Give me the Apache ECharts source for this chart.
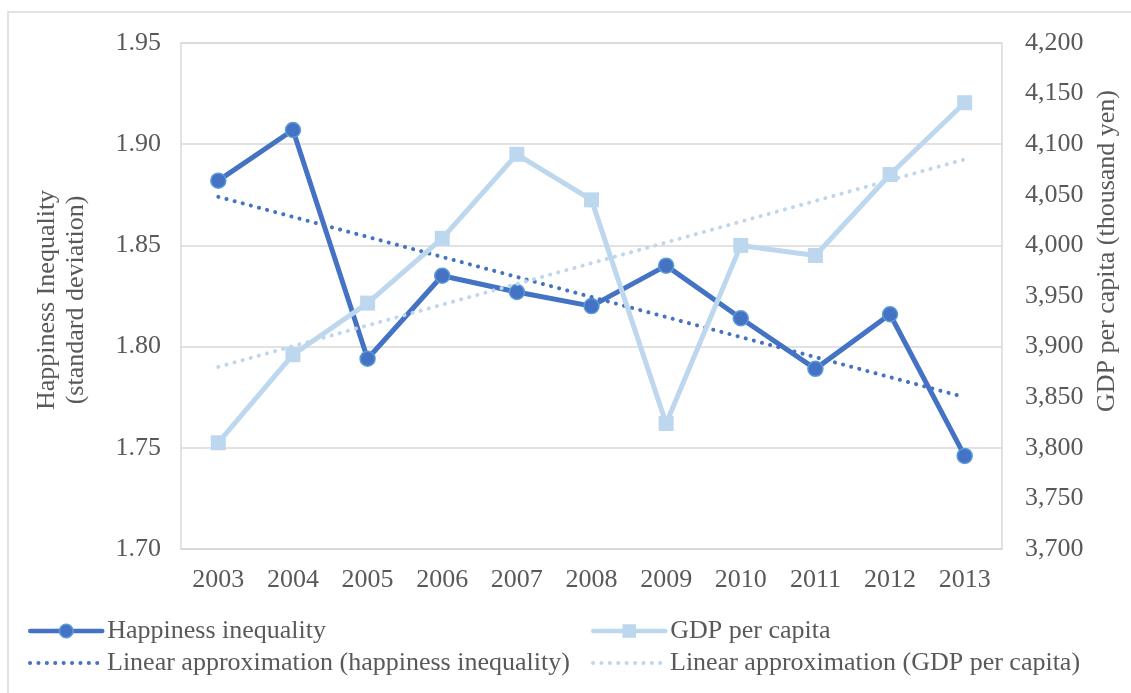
<!DOCTYPE html>
<html>
<head>
<meta charset="utf-8">
<title>Happiness inequality and GDP per capita</title>
<script src="https://cdn.jsdelivr.net/npm/echarts@6/dist/echarts.min.js"></script>
<style>
  html, body { margin: 0; padding: 0; background: #ffffff; }
  #chart { width: 1131px; height: 693px; }
</style>
</head>
<body>
<div id="chart"></div>
<script>
// Survey years
const years = ['2003', '2004', '2005', '2006', '2007', '2008', '2009', '2010', '2011', '2012', '2013'];

// Happiness inequality (standard deviation), left axis
const happinessInequality = [1.882, 1.907, 1.794, 1.835, 1.827, 1.820, 1.840, 1.814, 1.789, 1.816, 1.746];

// GDP per capita (thousand yen), right axis
const gdpPerCapita = [3805, 3892, 3943, 4007, 4090, 4045, 3824, 4000, 3990, 4070, 4141];

// Linear approximation end values (first year, last year)
const happinessTrendEnds = [1.874, 1.775];
const gdpTrendEnds = [3880, 4085];

// Axis tick values
const leftTicks = [1.70, 1.75, 1.80, 1.85, 1.90, 1.95];
const rightTicks = [3700, 3750, 3800, 3850, 3900, 3950, 4000, 4050, 4100, 4150, 4200];

const FONT = '"Liberation Serif", "Times New Roman", serif';
const TEXT = '#595959';
const GRID = '#D9D9D9';
const DARK = '#4472C4';
const DARK_EDGE = '#5B9BD5';
const LIGHT = '#BDD7EE';
const DOTS = [0.1, 8.3];

const trendData = ends => [[years[0], ends[0]], [years[years.length - 1], ends[1]]];

const chart = echarts.init(document.getElementById('chart'), null, { renderer: 'canvas' });

const legendBase = {
  padding: 0,
  itemWidth: 72,
  itemHeight: 17,
  itemGap: 0,
  textStyle: { fontFamily: FONT, fontSize: 26, color: TEXT },
  selectedMode: false
};

chart.setOption({
  animation: false,
  backgroundColor: '#ffffff',
  graphic: [
    {
      type: 'rect',
      shape: { x: 8, y: 12, width: 1200, height: 800 },
      style: { fill: 'none', stroke: GRID, lineWidth: 1.5 },
      silent: true
    },
    {
      type: 'text',
      x: 62, y: 300,
      rotation: Math.PI / 2,
      style: {
        text: 'Happiness Inequality\n(standard deviation)',
        fontFamily: FONT, fontSize: 26, lineHeight: 29,
        fill: TEXT, align: 'center', verticalAlign: 'middle'
      }
    },
    {
      type: 'text',
      x: 1107, y: 251,
      rotation: Math.PI / 2,
      style: {
        text: 'GDP per capita (thousand yen)',
        fontFamily: FONT, fontSize: 26,
        fill: TEXT, align: 'center', verticalAlign: 'middle'
      }
    }
  ],
  legend: [
    Object.assign({}, legendBase, {
      left: 28, top: 618,
      data: [{
        name: 'Happiness inequality',
        lineStyle: { width: 4.5, color: DARK, cap: 'round' },
        itemStyle: { color: DARK, borderColor: DARK_EDGE, borderWidth: 1.5 }
      }]
    }),
    Object.assign({}, legendBase, {
      left: 591, top: 618,
      data: [{
        name: 'GDP per capita',
        lineStyle: { width: 4.5, color: LIGHT, cap: 'round' },
        itemStyle: { color: LIGHT, borderWidth: 0 }
      }]
    }),
    Object.assign({}, legendBase, {
      left: 28, top: 650,
      data: [{
        name: 'Linear approximation (happiness inequality)',
        lineStyle: { width: 4, color: DARK, type: DOTS, cap: 'round' },
        itemStyle: { opacity: 0 }
      }]
    }),
    Object.assign({}, legendBase, {
      left: 591, top: 650,
      data: [{
        name: 'Linear approximation (GDP per capita)',
        lineStyle: { width: 4, color: LIGHT, type: DOTS, cap: 'round' },
        itemStyle: { opacity: 0 }
      }]
    })
  ],
  grid: {
    left: 181, right: 129, top: 43, bottom: 144,
    show: true, borderColor: GRID, borderWidth: 1.5,
    containLabel: false
  },
  xAxis: {
    type: 'category',
    data: years,
    boundaryGap: true,
    axisLine: { show: true, lineStyle: { color: GRID, width: 1.5 } },
    axisTick: { show: false },
    axisLabel: { fontFamily: FONT, fontSize: 26, color: TEXT, margin: 18 }
  },
  yAxis: [
    {
      type: 'value',
      min: leftTicks[0],
      max: leftTicks[leftTicks.length - 1],
      interval: 0.05,
      axisLine: { show: false },
      axisTick: { show: false },
      splitLine: { show: true, lineStyle: { color: GRID, width: 1.5 } },
      axisLabel: {
        fontFamily: FONT, fontSize: 26, color: TEXT, margin: 20,
        formatter: v => v.toFixed(2)
      }
    },
    {
      type: 'value',
      min: rightTicks[0],
      max: rightTicks[rightTicks.length - 1],
      interval: 50,
      position: 'right',
      axisLine: { show: false },
      axisTick: { show: false },
      splitLine: { show: false },
      axisLabel: {
        fontFamily: FONT, fontSize: 26, color: TEXT, margin: 23,
        formatter: v => v.toLocaleString('en-US')
      }
    }
  ],
  series: [
    {
      name: 'Happiness inequality',
      type: 'line',
      yAxisIndex: 0,
      data: happinessInequality,
      z: 3,
      symbol: 'circle',
      symbolSize: 15,
      lineStyle: { color: DARK, width: 5 },
      itemStyle: { color: DARK, borderColor: DARK_EDGE, borderWidth: 1.5 }
    },
    {
      name: 'Linear approximation (happiness inequality)',
      type: 'line',
      yAxisIndex: 0,
      data: trendData(happinessTrendEnds),
      z: 4,
      symbol: 'none',
      lineStyle: { color: DARK, width: 4, type: DOTS, cap: 'round' },
      itemStyle: { color: DARK }
    },
    {
      name: 'GDP per capita',
      type: 'line',
      yAxisIndex: 1,
      data: gdpPerCapita,
      z: 5,
      symbol: 'rect',
      symbolSize: 15,
      lineStyle: { color: LIGHT, width: 5 },
      itemStyle: { color: LIGHT, borderWidth: 0 }
    },
    {
      name: 'Linear approximation (GDP per capita)',
      type: 'line',
      yAxisIndex: 1,
      data: trendData(gdpTrendEnds),
      z: 6,
      symbol: 'none',
      lineStyle: { color: LIGHT, width: 4, type: DOTS, cap: 'round' },
      itemStyle: { color: LIGHT }
    }
  ]
});
</script>
</body>
</html>
